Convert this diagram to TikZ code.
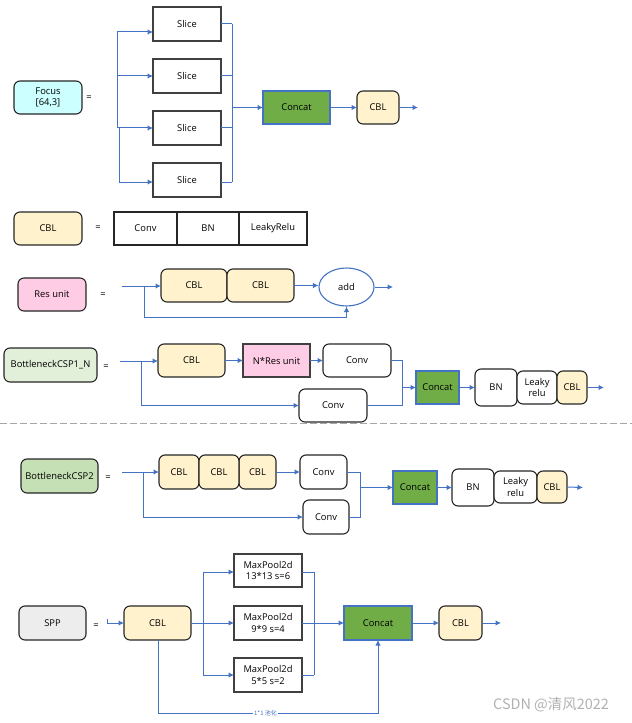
\documentclass[tikz,border=0pt]{standalone}
\usepackage{fontspec}
\setmainfont{Open Sans}
\newfontfamily\cjkf{Noto Sans CJK SC}
\usetikzlibrary{arrows.meta,shapes.geometric}
\definecolor{linkblue}{HTML}{4472C4}
\definecolor{concatgreen}{HTML}{70AD47}
\definecolor{cblfill}{HTML}{FFF2CC}
\definecolor{focusfill}{HTML}{CCFFFF}
\definecolor{pinkfill}{HTML}{FFCCE5}
\definecolor{csponefill}{HTML}{E2F0D9}
\definecolor{csptwofill}{HTML}{C5E0B4}
\definecolor{sppfill}{HTML}{EDEDED}
\newcommand\mainf{\fontsize{9.4}{12}\selectfont}
\newcommand\bx[7]{\node[#2, minimum width=#5bp, minimum height=#6bp] (#1) at (#3,#4) {#7};}
\tikzset{
  base/.style={draw=black!85, line width=1.1bp, inner sep=0pt, outer sep=0pt, align=center, font=\mainf},
  rbox/.style={base, rounded corners=6bp},
  sbox/.style={base, line width=1.5bp, draw=black!75},
  catbox/.style={base, fill=concatgreen, draw=linkblue, line width=1.3bp},
  eqsign/.style={font=\mainf, inner sep=0pt},
  link/.style={draw=linkblue, line width=1bp},
  arr/.style={link, -{Latex[length=5.5bp,width=5.5bp]}},
}
\begin{document}
\begin{tikzpicture}[x=1bp,y=-1bp]
\useasboundingbox[fill=white] (0,0) rectangle (632,723);

% ---------------- Focus ----------------
\bx{focus}{rbox, fill=focusfill}{48}{97.5}{68}{33}{Focus\\[-1bp][64,3]}
\node[eqsign] (eq1) at (89,98) {=};
\bx{s1}{sbox, fill=white}{187}{24}{68}{34}{Slice}
\bx{s2}{sbox, fill=white}{187}{76}{68}{34}{Slice}
\bx{s3}{sbox, fill=white}{187}{128}{68}{34}{Slice}
\bx{s4}{sbox, fill=white}{187}{180}{68}{34}{Slice}
\bx{fconcat}{catbox}{296.5}{107.5}{67}{33}{Concat}
\bx{fcbl}{rbox, fill=cblfill}{378}{107.5}{42}{33}{CBL}
\coordinate (fout) at (418,107.5);
\coordinate (fbA) at (117,32);
\coordinate (fbB) at (117,128);
\coordinate (fbC) at (119,128);
\coordinate (fbD) at (119,182);
\draw[link] (fbA) -- (fbB);
\draw[link] (fbC) -- (fbD);
\draw[arr] (fbA) -- (fbA -| s1.west);
\draw[arr] (fbA |- s2.west) -- (s2.west);
\draw[arr] (fbB) -- (fbB -| s3.west);
\draw[arr] (fbD) -- (fbD -| s4.west);
\coordinate (frA) at (232,24);
\coordinate (frB) at (232,182);
\draw[link] (frA) -- (frB);
\draw[link] (s1.east) -- (s1.east -| frA);
\draw[link] (s2.east) -- (s2.east -| frA);
\draw[link] (s3.east) -- (s3.east -| frA);
\draw[link] (s4.east |- frB) -- (frB);
\draw[arr] (frA |- fconcat.west) -- (fconcat.west);
\draw[arr] (fconcat) -- (fcbl);
\draw[arr] (fcbl) -- (fout);

% ---------------- CBL ----------------
\bx{cbl}{rbox, fill=cblfill}{48}{228.5}{68}{33}{CBL}
\node[eqsign] (eq2) at (98,228) {=};
\bx{conv}{base, fill=white}{145.5}{228.5}{63}{33}{Conv}
\bx{bn}{base, fill=white}{208}{228.5}{62}{33}{BN}
\bx{lrelu}{base, fill=white}{273}{228.5}{68}{33}{LeakyRelu}

% ---------------- Res unit ----------------
\bx{res}{rbox, fill=pinkfill}{52}{294.5}{68}{33}{Res unit}
\node[eqsign] (eq3) at (103,295) {=};
\coordinate (rin) at (122,286);
\bx{rcblA}{rbox, fill=cblfill}{194}{285.5}{66}{33}{CBL}
\bx{rcblB}{rbox, fill=cblfill}{260.5}{285.5}{67}{33}{CBL}
\node[ellipse, draw=linkblue, line width=1.1bp, fill=white, minimum width=55bp, minimum height=38bp, inner sep=0pt, font=\mainf] (add) at (346.5,287) {add};
\coordinate (rout) at (393,287);
\draw[arr] (rin) -- (rin -| rcblA.west);
\draw[arr] (rcblB.east) -- (rcblB.east -| add.west);
\draw[arr] (add.east) -- (add.east -| rout);
\coordinate (rsA) at (144,286);
\coordinate (rsB) at (144,317);
\draw[arr] (rsA) -- (rsB) -| (add.south);

% ---------------- BottleneckCSP1_N ----------------
\bx{cspone}{rbox, fill=csponefill}{50.5}{365}{93}{34}{BottleneckCSP1\_N}
\node[eqsign] (eq4) at (106,367) {=};
\coordinate (cAin) at (120,361);
\bx{cAcbl}{rbox, fill=cblfill}{191.5}{360.5}{67}{33}{CBL}
\bx{cAres}{sbox, fill=pinkfill}{276.5}{360.5}{67}{33}{N*Res unit}
\bx{cAconv}{rbox, fill=white}{357}{360.5}{68}{33}{Conv}
\bx{cAconvB}{rbox, fill=white}{333}{405.5}{68}{33}{Conv}
\bx{cAconcat}{catbox}{437.5}{387.5}{43}{33}{Concat}
\bx{cAbn}{rbox, fill=white}{496}{387.5}{42}{37}{BN}
\bx{cAlr}{rbox, fill=white}{537}{387.5}{40}{33}{Leaky\\relu}
\bx{cAcblB}{rbox, fill=cblfill}{572}{387.5}{30}{33}{CBL}
\coordinate (cAout) at (604,387.5);
\draw[arr] (cAin) -- (cAin -| cAcbl.west);
\draw[arr] (cAcbl) -- (cAres);
\draw[arr] (cAres) -- (cAconv);
\coordinate (cAbr) at (141,361);
\draw[arr] (cAbr) |- (cAconvB.west);
\coordinate (cAm) at (402.5,387.5);
\draw[link] (cAconv.east) -| (cAm);
\draw[link] (cAconvB.east) -| (cAm);
\draw[arr] (cAm) -- (cAconcat.west);
\draw[arr] (cAconcat) -- (cAbn);
\draw[arr] (cAcblB.east) -- (cAout);

% dashed separator
\coordinate (sepL) at (0,423);
\coordinate (sepR) at (632,423);
\draw[black!35, line width=1bp, dash pattern=on 7bp off 3bp] (sepL) -- (sepR);

% ---------------- BottleneckCSP2 ----------------
\bx{csptwo}{rbox, fill=csptwofill}{59.5}{476}{77}{34}{BottleneckCSP2}
\node[eqsign] (eq5) at (108,478) {=};
\coordinate (cBin) at (122,472);
\bx{cBcblA}{rbox, fill=cblfill}{179}{472}{40}{34}{CBL}
\bx{cBcblC}{rbox, fill=cblfill}{257.5}{472}{37}{34}{CBL}
\bx{cBcblB}{rbox, fill=cblfill}{219}{472}{40}{34}{CBL}
\bx{cBconv}{rbox, fill=white}{323.5}{472}{47}{34}{Conv}
\bx{cBconvB}{rbox, fill=white}{326}{517}{46}{34}{Conv}
\bx{cBconcat}{catbox}{415}{487.5}{44}{33}{Concat}
\bx{cBbn}{rbox, fill=white}{473}{487.5}{42}{37}{BN}
\bx{cBlr}{rbox, fill=white}{515.5}{487}{43}{32}{Leaky\\relu}
\bx{cBcblD}{rbox, fill=cblfill}{552}{487}{30}{32}{CBL}
\coordinate (cBout) at (583,487.5);
\draw[arr] (cBin) -- (cBin -| cBcblA.west);
\draw[arr] (cBcblC.east) -- (cBconv.west);
\coordinate (cBbr) at (143,472);
\draw[arr] (cBbr) |- (cBconvB.west);
\coordinate (cBm) at (360.5,487.5);
\draw[link] (cBconv.east) -| (cBm);
\draw[link] (cBconvB.east) -| (cBm);
\draw[arr] (cBm) -- (cBconcat.west);
\draw[arr] (cBconcat) -- (cBbn);
\draw[arr] (cBcblD.east) -- (cBout);

% ---------------- SPP ----------------
\bx{spp}{rbox, fill=sppfill}{52.5}{623}{67}{34}{SPP}
\node[eqsign] (eq6) at (96,626) {=};
\coordinate (sin) at (107,619);
\bx{scbl}{rbox, fill=cblfill}{157.5}{623}{67}{34}{CBL}
\bx{mpA}{sbox, line width=1.3bp, fill=white}{268}{570.5}{68}{33}{MaxPool2d\\13*13 s=6}
\bx{mpB}{sbox, line width=1.3bp, fill=white}{268}{623}{68}{34}{MaxPool2d\\9*9 s=4}
\bx{mpC}{sbox, line width=1.3bp, fill=white}{268}{675}{68}{34}{MaxPool2d\\5*5 s=2}
\bx{sconcat}{catbox}{378}{623}{68}{34}{Concat}
\bx{scblB}{rbox, fill=cblfill}{460.5}{623}{43}{34}{CBL}
\coordinate (sout) at (501,623);
\draw[arr] (sin) |- (scbl.west);
\coordinate (sbA) at (203,572);
\coordinate (sbC) at (203,675);
\draw[link] (scbl.east) -- (scbl.east -| sbA);
\draw[link] (sbA) -- (sbC);
\draw[arr] (sbA) -- (sbA -| mpA.west);
\draw[arr] (sbA |- mpB.west) -- (mpB.west);
\draw[arr] (sbC) -- (sbC -| mpC.west);
\coordinate (srA) at (314,572);
\coordinate (srC) at (314,675);
\draw[link] (srA) -- (srC);
\draw[link] (mpA.east |- srA) -- (srA);
\draw[link] (mpB.east) -- (mpB.east -| srA);
\draw[link] (mpC.east |- srC) -- (srC);
\draw[arr] (srA |- sconcat.west) -- (sconcat.west);
\draw[arr] (sconcat) -- (scblB);
\draw[arr] (scblB.east) -- (sout);
\coordinate (sdA) at (158,713);
\draw[arr] (scbl.south -| sdA) -- (sdA) -| (sconcat.south);
\node[fill=white, inner sep=0.8bp, text=linkblue, font=\cjkf\fontsize{6}{6.5}\selectfont] (poolnote) at (265.5,713) {1*1 池化};

% watermark
\node[inner sep=0pt, text=black!30, font=\cjkf\fontsize{14.5}{15}\selectfont] (wm) at (551,705) {CSDN @清风2022};
\end{tikzpicture}
\end{document}
